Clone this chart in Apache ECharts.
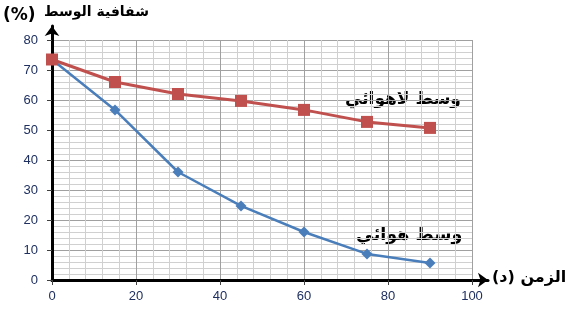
<!DOCTYPE html>
<html><head><meta charset="utf-8">
<script src="https://cdn.jsdelivr.net/npm/echarts@6/dist/echarts.min.js"></script>
<style>html,body{margin:0;padding:0;background:#fff}#c{width:568px;height:312px}</style>
</head><body><div id="c"></div>
<script>
var timeMinutes = [0, 15, 30, 45, 60, 75, 90];
var anaerobicValues = [73.5, 66, 62, 59.7, 56.7, 52.7, 50.7];
var aerobicValues = [73.5, 56.7, 36, 24.7, 16, 8.7, 5.7];
var xTicks = [0, 20, 40, 60, 80, 100];
var yTicks = [0, 10, 20, 30, 40, 50, 60, 70, 80];
var yTitleUnit = '(%)';
var yTitleText = 'شفافية الوسط';
var xTitle = '(د) الزمن';
var anaerobicLabel = 'وسط لاهوائي';
var aerobicLabel = 'وسط هوائي';

function pairs(xs, ys){ return xs.map(function(x,i){return [x, ys[i]];}); }

var chart = echarts.init(document.getElementById('c'), null, {renderer:'canvas'});
var tickFont = {color:'#1f3060', fontSize:13, fontFamily:'Liberation Sans, Arial, sans-serif'};
var arabicFont = 'DejaVu Sans, Noto Sans, sans-serif';

chart.setOption({
  animation:false,
  backgroundColor:'#fff',
  grid:[
    {left:52, right:96, top:40, bottom:32},
    {left:52, right:80, top:26, bottom:32}
  ],
  xAxis:[
    {type:'value', gridIndex:0, min:xTicks[0], max:xTicks[xTicks.length-1], interval:20,
     axisLine:{show:false}, axisTick:{show:true, length:5, lineStyle:{color:'#404040'}},
     axisLabel:Object.assign({margin:10}, tickFont),
     splitLine:{show:true, lineStyle:{color:'#a0a0a0', width:1}},
     minorTick:{show:false, splitNumber:5},
     minorSplitLine:{show:true, lineStyle:{color:'#d0d0d0', width:1}}},
    {type:'value', gridIndex:1, min:0, max:1, position:'bottom',
     axisLine:{show:true, onZero:false, symbol:['none','arrow'], symbolSize:[11,10], lineStyle:{color:'#000', width:3}},
     axisTick:{show:false}, axisLabel:{show:false}, splitLine:{show:false}}
  ],
  yAxis:[
    {type:'value', gridIndex:0, min:yTicks[0], max:yTicks[yTicks.length-1], interval:10,
     axisLine:{show:false}, axisTick:{show:true, length:5, lineStyle:{color:'#404040'}},
     axisLabel:Object.assign({margin:14}, tickFont),
     splitLine:{show:true, lineStyle:{color:'#a0a0a0', width:1}},
     minorTick:{show:false, splitNumber:5},
     minorSplitLine:{show:true, lineStyle:{color:'#d0d0d0', width:1}}},
    {type:'value', gridIndex:1, min:0, max:1, position:'left',
     axisLine:{show:true, onZero:false, symbol:['none','arrow'], symbolSize:[11,10], lineStyle:{color:'#000', width:3}},
     axisTick:{show:false}, axisLabel:{show:false}, splitLine:{show:false}}
  ],
  graphic:[
    {type:'text', left:3, top:7, style:{text:yTitleUnit, fontFamily:arabicFont, fontWeight:'bold', fontSize:17, fill:'#000'}},
    {type:'text', left:44, top:5, style:{text:yTitleText, fontFamily:arabicFont, fontWeight:'bold', fontSize:14, fill:'#000'}},
    {type:'text', left:492, top:270, style:{text:xTitle, fontFamily:arabicFont, fontWeight:'bold', fontSize:16, fill:'#000'}},
    {type:'text', left:345, top:91, style:{text:anaerobicLabel, fontFamily:arabicFont, fontWeight:'bold', fontSize:17, fill:'#000'}},
    {type:'text', left:356, top:226, style:{text:aerobicLabel, fontFamily:arabicFont, fontWeight:'bold', fontSize:17.5, fill:'#000'}}
  ],
  series:[
    {type:'line', xAxisIndex:0, yAxisIndex:0, data:pairs(timeMinutes, aerobicValues),
     symbol:'diamond', symbolSize:11, lineStyle:{color:'#4a7ebb', width:2.5},
     itemStyle:{color:'#4a7ebb'}, z:3},
    {type:'line', xAxisIndex:0, yAxisIndex:0, data:pairs(timeMinutes, anaerobicValues),
     symbol:'rect', symbolSize:12, lineStyle:{color:'#c0504d', width:3},
     itemStyle:{color:'#c0504d'}, z:4}
  ]
});
</script></body></html>
